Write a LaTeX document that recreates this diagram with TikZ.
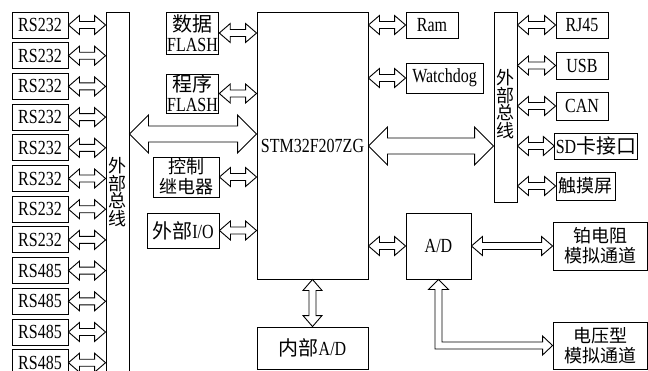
\documentclass[tikz,border=0pt]{standalone}
\usepackage{fontspec}
\newfontfamily\cjk{Noto Sans CJK SC}
\newfontfamily\lat[FakeStretch=0.8]{Liberation Serif}
\usetikzlibrary{calc}

\begin{document}
\begin{tikzpicture}[x=1pt,y=-1pt,line width=.9pt,
  every node/.style={font=\lat\fontsize{20}{20}\selectfont,inner sep=1pt},
  box/.style={draw,align=center},
  ahl/.store in=\ahL,ahh/.store in=\ahH,ahw/.store in=\ahW,ahl=11pt,ahh=9.5pt,ahw=3.5pt,
  dbl/.style={to path={--($(\tikztostart)!\ahL!(\tikztotarget)!\ahH!90:(\tikztotarget)$)
    --($(\tikztostart)!\ahL!(\tikztotarget)!\ahW!90:(\tikztotarget)$)
    --($(\tikztotarget)!\ahL!(\tikztostart)!\ahW!-90:(\tikztostart)$)
    --($(\tikztotarget)!\ahL!(\tikztostart)!\ahH!-90:(\tikztostart)$)
    --(\tikztotarget)
    --($(\tikztotarget)!\ahL!(\tikztostart)!\ahH!90:(\tikztostart)$)
    --($(\tikztotarget)!\ahL!(\tikztostart)!\ahW!90:(\tikztostart)$)
    --($(\tikztostart)!\ahL!(\tikztotarget)!\ahW!-90:(\tikztotarget)$)
    --($(\tikztostart)!\ahL!(\tikztotarget)!\ahH!-90:(\tikztotarget)$)--cycle}},
  big/.style={dbl,ahl=19pt,ahh=19pt,ahw=8pt},
  bus/.style={font=\cjk\fontsize{18}{17.5}\selectfont,align=center},
  zh/.style={font=\cjk\fontsize{18}{20}\selectfont}]
\clip(0,0) rectangle (648,370);
% buses
\node[box,minimum width=23,minimum height=375](lbus) at(117.5,199.5){};
\node[bus](lbl) at(117.5,192){外\\部\\总\\线};
\node[box,minimum width=23,minimum height=190](rbus) at(505.5,107){};
\node[bus](rbl) at(505.5,104){外\\部\\总\\线};
% serial ports
\foreach \t [count=\i] in {RS232,RS232,RS232,RS232,RS232,RS232,RS232,RS232,RS485,RS485,RS485,RS485}{
  \node[box,minimum width=56,minimum height=26](rs\i) at(40,{25+30.7*(\i-1)}){\t};
  \draw[dbl](rs\i.east) to (lbus.west|-rs\i.east);}
% cpu and its neighbours
\node[box,minimum width=111,minimum height=267](mcu) at(312.5,145.5){STM32F207ZG};
\node[box,minimum width=51,minimum height=42](dat) at(192.5,33){{\cjk 数据}\\FLASH};
\node[box,minimum width=51,minimum height=39](prg) at(192.5,93.5){{\cjk 程序}\\FLASH};
\node[box,zh,minimum width=66,minimum height=40](rly) at(186,177){控制\\继电器};
\node[box,minimum width=72,minimum height=35](io) at(183,230.5){{\cjk 外部}I/O};
\node[box,minimum width=111,minimum height=42](iad) at(312.5,348){{\cjk 内部}A/D};
\node[box,minimum width=52,minimum height=26](ram) at(432,25){Ram};
\node[box,minimum width=77,minimum height=30](wd) at(444.5,78){Watchdog};
\node[box,minimum width=65,minimum height=66](ad) at(438.5,246){A/D};
\node[box,zh,minimum width=94,minimum height=48](pt) at(600,246){铂电阻\\模拟通道};
\node[box,zh,minimum width=94,minimum height=47](vt) at(600,345.5){电压型\\模拟通道};
% external bus devices
\node[box,minimum width=52,minimum height=26](rj) at(582,25){RJ45};
\node[box,minimum width=52,minimum height=27](usb) at(582,65.5){USB};
\node[box,minimum width=52,minimum height=28](can) at(582,106){CAN};
\node[box,minimum width=80,minimum height=26](sd) at(596,146){SD{\cjk 卡接口}};
\node[box,zh,minimum width=59,minimum height=28](tp) at(585.5,186){触摸屏};
% links
\draw[big](lbus.east|-0,134) to (mcu.west|-0,134);
\draw[big](mcu.east|-0,146) to (rbus.west|-0,146);
\foreach \n in {dat,prg,rly,io}\draw[dbl](\n.east) to (mcu.west|-\n.east);
\foreach \n in {ram,wd,ad}\draw[dbl](mcu.east|-\n.west) to (\n.west);
\foreach \n in {rj,usb,can,sd,tp}\draw[dbl](rbus.east|-\n.west) to (\n.west);
\draw[dbl](ad.east) to (pt.west);
\draw[dbl](mcu.south) to (iad.north);
\draw(ad.south)--++(-10,10)--++(6.5,0)|-($(vt.west)+(-10,3.5)$)--++(0,6)--(vt.west)--++(-10,-9.5)--++(0,6)-|($(ad.south)+(3.5,10)$)--++(6.5,0)--cycle;
\end{tikzpicture}
\end{document}
